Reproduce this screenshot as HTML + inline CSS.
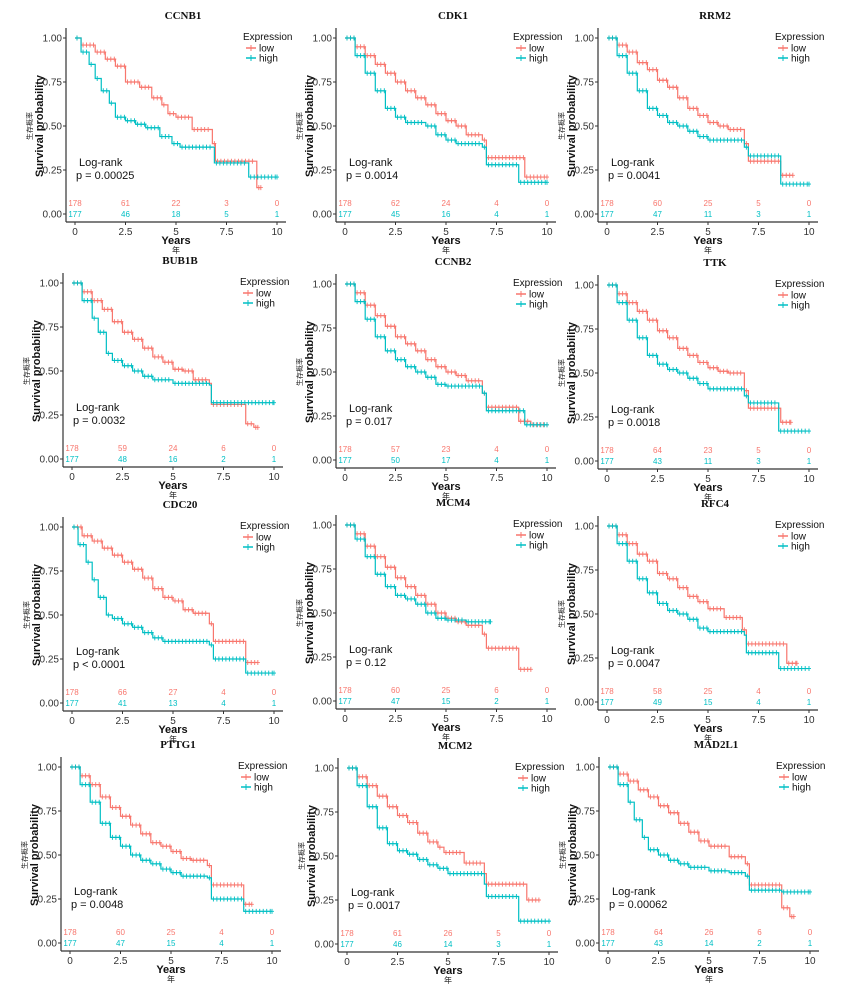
<!DOCTYPE html>
<html><head><meta charset="utf-8"><style>
html,body{margin:0;padding:0;background:#fff;width:851px;height:987px;overflow:hidden}
svg{display:block}
text{font-family:"Liberation Sans","Noto Sans CJK SC",sans-serif}
text.ttl{font-family:"Liberation Serif",serif}
</style></head><body>
<svg id="fig" width="851" height="987" viewBox="0 0 851 987" xmlns="http://www.w3.org/2000/svg"></svg>
<script>
const genes = ["CCNB1","CDK1","RRM2","BUB1B","CCNB2","TTK","CDC20","MCM4","RFC4","PTTG1","MCM2","MAD2L1"];
const pvals = ["p = 0.00025","p = 0.0014","p = 0.0041","p = 0.0032","p = 0.017","p = 0.0018","p < 0.0001","p = 0.12","p = 0.0047","p = 0.0048","p = 0.0017","p = 0.00062"];
const riskTimes = [0,2.5,5,7.5,10];
const riskLow = [[178,61,22,3,0],[178,62,24,4,0],[178,60,25,5,0],[178,59,24,6,0],[178,57,23,4,0],[178,64,23,5,0],[178,66,27,4,0],[178,60,25,6,0],[178,58,25,4,0],[178,60,25,4,0],[178,61,26,5,0],[178,64,26,6,0]];
const riskHigh = [[177,46,18,5,1],[177,45,16,4,1],[177,47,11,3,1],[177,48,16,2,1],[177,50,17,4,1],[177,43,11,3,1],[177,41,13,4,1],[177,47,15,2,1],[177,49,15,4,1],[177,47,15,4,1],[177,46,14,3,1],[177,43,14,2,1]];
const lowCurves = [
 [[0,1],[0.3,0.96],[1,0.92],[1.5,0.88],[2,0.84],[2.5,0.75],[3.2,0.72],[3.8,0.66],[4.3,0.62],[4.6,0.57],[5,0.55],[5.8,0.48],[6.8,0.40],[6.95,0.30],[9,0.15],[9.2,0.15]],
 [[0,1],[0.5,0.95],[1,0.9],[1.5,0.85],[2,0.8],[2.5,0.75],[3,0.70],[3.5,0.66],[4,0.62],[4.5,0.57],[5,0.53],[5.5,0.5],[6,0.45],[6.8,0.42],[7,0.32],[8.9,0.21],[10,0.21]],
 [[0,1],[0.5,0.96],[1,0.92],[1.5,0.86],[2,0.82],[2.5,0.76],[3,0.72],[3.5,0.66],[4,0.6],[4.5,0.56],[5,0.52],[5.5,0.5],[6,0.48],[6.8,0.4],[7,0.3],[8.6,0.22],[9.2,0.22]],
 [[0,1],[0.5,0.95],[1,0.9],[1.5,0.85],[2,0.78],[2.5,0.72],[3,0.68],[3.5,0.63],[4,0.58],[4.5,0.55],[5,0.51],[5.5,0.5],[6,0.45],[6.8,0.43],[6.9,0.31],[8.6,0.2],[9,0.18],[9.2,0.18]],
 [[0,1],[0.5,0.95],[1,0.88],[1.5,0.82],[2,0.76],[2.5,0.7],[3,0.66],[3.5,0.62],[4,0.57],[4.5,0.53],[5,0.5],[5.5,0.48],[6,0.45],[6.8,0.38],[7,0.3],[8.6,0.22],[9.2,0.2],[10,0.2]],
 [[0,1],[0.5,0.95],[1,0.9],[1.5,0.85],[2,0.8],[2.5,0.74],[3,0.7],[3.5,0.64],[4,0.6],[4.5,0.56],[5,0.53],[5.5,0.51],[6,0.5],[6.8,0.4],[7,0.3],[8.6,0.22],[9.1,0.22]],
 [[0,1],[0.5,0.95],[1,0.92],[1.5,0.88],[2,0.84],[2.5,0.8],[3,0.76],[3.5,0.71],[4,0.65],[4.5,0.6],[5,0.58],[5.5,0.53],[6,0.51],[6.8,0.45],[7,0.35],[8.6,0.23],[9.2,0.23]],
 [[0,1],[0.5,0.95],[1,0.88],[1.5,0.82],[2,0.76],[2.5,0.7],[3,0.65],[3.5,0.6],[4,0.55],[4.5,0.5],[5,0.47],[5.5,0.45],[6,0.43],[6.8,0.38],[7,0.3],[8.6,0.18],[9.2,0.18]],
 [[0,1],[0.5,0.95],[1,0.9],[1.5,0.84],[2,0.8],[2.5,0.73],[3,0.7],[3.5,0.65],[4,0.6],[4.5,0.57],[5,0.53],[5.8,0.48],[6.7,0.41],[6.9,0.33],[8.9,0.22],[9.4,0.22]],
 [[0,1],[0.5,0.95],[1,0.9],[1.5,0.83],[2,0.77],[2.5,0.72],[3,0.67],[3.5,0.62],[4,0.57],[4.5,0.55],[5,0.52],[5.5,0.48],[6,0.47],[6.8,0.44],[7,0.33],[8.6,0.22],[9,0.22]],
 [[0,1],[0.5,0.95],[1,0.9],[1.5,0.84],[2,0.78],[2.5,0.73],[3,0.69],[3.5,0.63],[4,0.58],[4.5,0.55],[4.8,0.52],[5.8,0.46],[6.8,0.40],[6.9,0.34],[8.9,0.25],[9.5,0.25]],
 [[0,1],[0.5,0.96],[1,0.92],[1.5,0.87],[2,0.83],[2.5,0.78],[3,0.74],[3.5,0.68],[4,0.63],[4.5,0.58],[5,0.55],[6,0.49],[6.8,0.45],[7,0.33],[8.6,0.2],[9,0.15],[9.2,0.15]]
];
const highCurves = [
 [[0,1],[0.3,0.92],[0.7,0.85],[1,0.77],[1.3,0.70],[1.7,0.63],[2,0.55],[2.5,0.53],[3,0.51],[3.5,0.49],[4.2,0.44],[4.8,0.40],[5.2,0.38],[6.9,0.29],[8.6,0.21],[10,0.21]],
 [[0,1],[0.5,0.9],[1,0.8],[1.5,0.7],[2,0.6],[2.5,0.55],[3,0.52],[4,0.5],[4.5,0.45],[5,0.42],[5.5,0.4],[6.8,0.38],[7,0.28],[8.6,0.18],[10,0.18]],
 [[0,1],[0.5,0.9],[1,0.8],[1.5,0.7],[2,0.6],[2.5,0.56],[3,0.52],[3.5,0.5],[4,0.47],[4.5,0.44],[5,0.42],[6.8,0.38],[7,0.33],[8.6,0.17],[10,0.17]],
 [[0,1],[0.5,0.9],[1,0.8],[1.3,0.72],[1.7,0.6],[2,0.56],[2.5,0.53],[3,0.5],[3.5,0.47],[4,0.45],[5,0.43],[6.8,0.42],[6.9,0.32],[10,0.32]],
 [[0,1],[0.5,0.9],[1,0.8],[1.5,0.7],[2,0.62],[2.5,0.57],[3,0.53],[3.5,0.5],[4,0.47],[4.5,0.43],[5,0.42],[6.8,0.38],[7,0.28],[8.9,0.2],[10,0.2]],
 [[0,1],[0.5,0.9],[1,0.8],[1.5,0.7],[2,0.6],[2.5,0.55],[3,0.52],[3.5,0.5],[4,0.47],[4.5,0.44],[5,0.41],[6.8,0.37],[7,0.33],[8.5,0.17],[10,0.17]],
 [[0,1],[0.3,0.9],[0.7,0.8],[1,0.7],[1.3,0.6],[1.7,0.5],[2,0.48],[2.5,0.45],[3,0.43],[3.5,0.4],[4,0.37],[4.5,0.35],[6.8,0.33],[7,0.25],[8.6,0.17],[10,0.17]],
 [[0,1],[0.5,0.92],[1,0.82],[1.5,0.72],[2,0.65],[2.5,0.6],[3,0.58],[3.5,0.55],[4,0.5],[4.5,0.47],[5,0.46],[6,0.45],[7.2,0.45]],
 [[0,1],[0.5,0.9],[1,0.8],[1.5,0.7],[2,0.62],[2.5,0.56],[3,0.52],[3.5,0.5],[4,0.47],[4.5,0.42],[5,0.4],[6.8,0.38],[6.9,0.28],[8.5,0.19],[10,0.19]],
 [[0,1],[0.5,0.9],[1,0.8],[1.5,0.68],[2,0.6],[2.5,0.55],[3,0.5],[3.5,0.47],[4,0.45],[4.5,0.42],[5,0.4],[5.5,0.38],[6.8,0.37],[7,0.25],[8.6,0.18],[10,0.18]],
 [[0,1],[0.5,0.9],[1,0.78],[1.5,0.66],[2,0.57],[2.5,0.53],[3,0.51],[3.5,0.48],[4,0.45],[4.5,0.43],[5,0.40],[6.8,0.34],[6.9,0.27],[8.5,0.13],[10,0.13]],
 [[0,1],[0.5,0.9],[1,0.8],[1.3,0.7],[1.7,0.6],[2,0.53],[2.5,0.5],[3,0.47],[3.5,0.45],[4,0.43],[5,0.41],[6,0.4],[6.8,0.38],[7,0.3],[8.6,0.29],[10,0.29]]
];
const xTicks = [0,2.5,5,7.5,10];
const xTickLabels = ["0","2.5","5","7.5","10"];
const yTicks = [0,0.25,0.5,0.75,1];
const yTickLabels = ["0.00","0.25","0.50","0.75","1.00"];
const panelX0 = [75,345,607,72,345,607,72,345,607,70,347,608];
const panelY1 = [38,38,38,283,284,285,527,525,526,767,768,767];

const LOW="#F8766D", HIGH="#00BFC4";
const NS="http://www.w3.org/2000/svg";
const svg=document.getElementById('fig');
function mk(tag,attrs,parent,txt){const e=document.createElementNS(NS,tag);for(const k in attrs)e.setAttribute(k,attrs[k]);if(txt!==undefined)e.textContent=txt;parent.appendChild(e);return e;}

genes.forEach((g,i)=>{
  const x0=panelX0[i], y1=panelY1[i], W=202, H=176;
  const sx=t=>x0+t/10*W, sy=s=>y1+(1-s)*H;
  const grp=mk('g',{},svg);
  
  
  const axL=x0-9, axB=y1+H+8;
  const t=mk('text',{class:'ttl',x:x0+W/2+7,y:y1-19,'text-anchor':'middle','font-size':11,'font-weight':'bold',fill:'#111'},grp,g);
  
  const ya=mk('line',{x1:axL,y1:y1-10,x2:axL,y2:axB,stroke:'#333','stroke-width':1.2},grp);
  
  const xa=mk('line',{x1:axL,y1:axB,x2:x0+W+9,y2:axB,stroke:'#333','stroke-width':1.2},grp);
  
  yTicks.forEach((v,k)=>{
    mk('line',{x1:axL-3,y1:sy(v),x2:axL,y2:sy(v),stroke:'#333'},grp);
    const l=mk('text',{x:axL-4,y:sy(v)+3.5,'text-anchor':'end','font-size':10,fill:'#333'},grp,yTickLabels[k]);
    
  });
  xTicks.forEach((v,k)=>{
    mk('line',{x1:sx(v),y1:axB,x2:sx(v),y2:axB+3,stroke:'#333'},grp);
    const l=mk('text',{x:sx(v),y:axB+13,'text-anchor':'middle','font-size':10,fill:'#333'},grp,xTickLabels[k]);
    
  });
  const xt=mk('text',{x:x0+W/2,y:axB+22,'text-anchor':'middle','font-size':11,'font-weight':'bold',fill:'#111'},grp,'Years');
  
  const xc=mk('text',{x:x0+W/2,y:axB+31,'text-anchor':'middle','font-size':8,fill:'#222'},grp,'年');
  
  const cy=y1+H/2;
  const yt=mk('text',{x:0,y:0,'text-anchor':'middle','font-size':11,'font-weight':'bold',fill:'#111',transform:`translate(${x0-32},${cy}) rotate(-90)`},grp,'Survival probability');
  
  const yc=mk('text',{x:0,y:0,'text-anchor':'middle','font-size':7,fill:'#222',transform:`translate(${x0-43},${cy}) rotate(-90)`},grp,'生存概率');
  
  [[lowCurves[i],LOW,'low'],[highCurves[i],HIGH,'high']].forEach(([pts,col,nm])=>{
    let d='M'+sx(pts[0][0])+','+sy(pts[0][1]);
    for(let k=1;k<pts.length;k++){d+=' H'+sx(pts[k][0])+' V'+sy(pts[k][1]);}
    const p=mk('path',{d:d,fill:'none',stroke:col,'stroke-width':1.2},grp);
    
    let cd='';
    for(let k=0;k<pts.length-1;k++){
      const x1=sx(pts[k][0]), x2=sx(pts[k+1][0]), ty=sy(pts[k][1]);
      for(let tx=x1+2;tx<x2-1;tx+=3.5){cd+=`M${tx-2},${ty} h4 M${tx},${ty-2.5} v5 `;}
    }
    const last=pts[pts.length-1];
    cd+=`M${sx(last[0])-2},${sy(last[1])} h4 M${sx(last[0])},${sy(last[1])-2.5} v5`;
    const c=mk('path',{d:cd,stroke:col,'stroke-width':0.9},grp);
    
  });
  const lx=x0+168, ly=y1;
  const lt=mk('text',{x:lx,y:ly+2,'font-size':10,fill:'#111'},grp,'Expression');
  
  [['low',LOW,13],['high',HIGH,23]].forEach(([nm,col,dy])=>{
    mk('line',{x1:lx+3,y1:ly+dy-3,x2:lx+13,y2:ly+dy-3,stroke:col,'stroke-width':1.5},grp);
    mk('path',{d:`M${lx+8},${ly+dy-6} v6`,stroke:col,'stroke-width':1},grp);
    const e=mk('text',{x:lx+16,y:ly+dy+0.5,'font-size':10,fill:'#111'},grp,nm);
    
  });
  const lr=mk('text',{x:x0+4,y:y1+128,'font-size':11,fill:'#111'},grp,'Log-rank');
  
  const pv=mk('text',{x:x0+1,y:y1+141,'font-size':11,fill:'#111'},grp,pvals[i]);
  
  riskTimes.forEach((rt,k)=>{
    const a=mk('text',{x:sx(rt),y:y1+168,'text-anchor':'middle','font-size':8,fill:LOW},grp,riskLow[i][k]);
    
    const b=mk('text',{x:sx(rt),y:y1+179,'text-anchor':'middle','font-size':8,fill:HIGH},grp,riskHigh[i][k]);
    
  });
});
</script>
</body></html>
